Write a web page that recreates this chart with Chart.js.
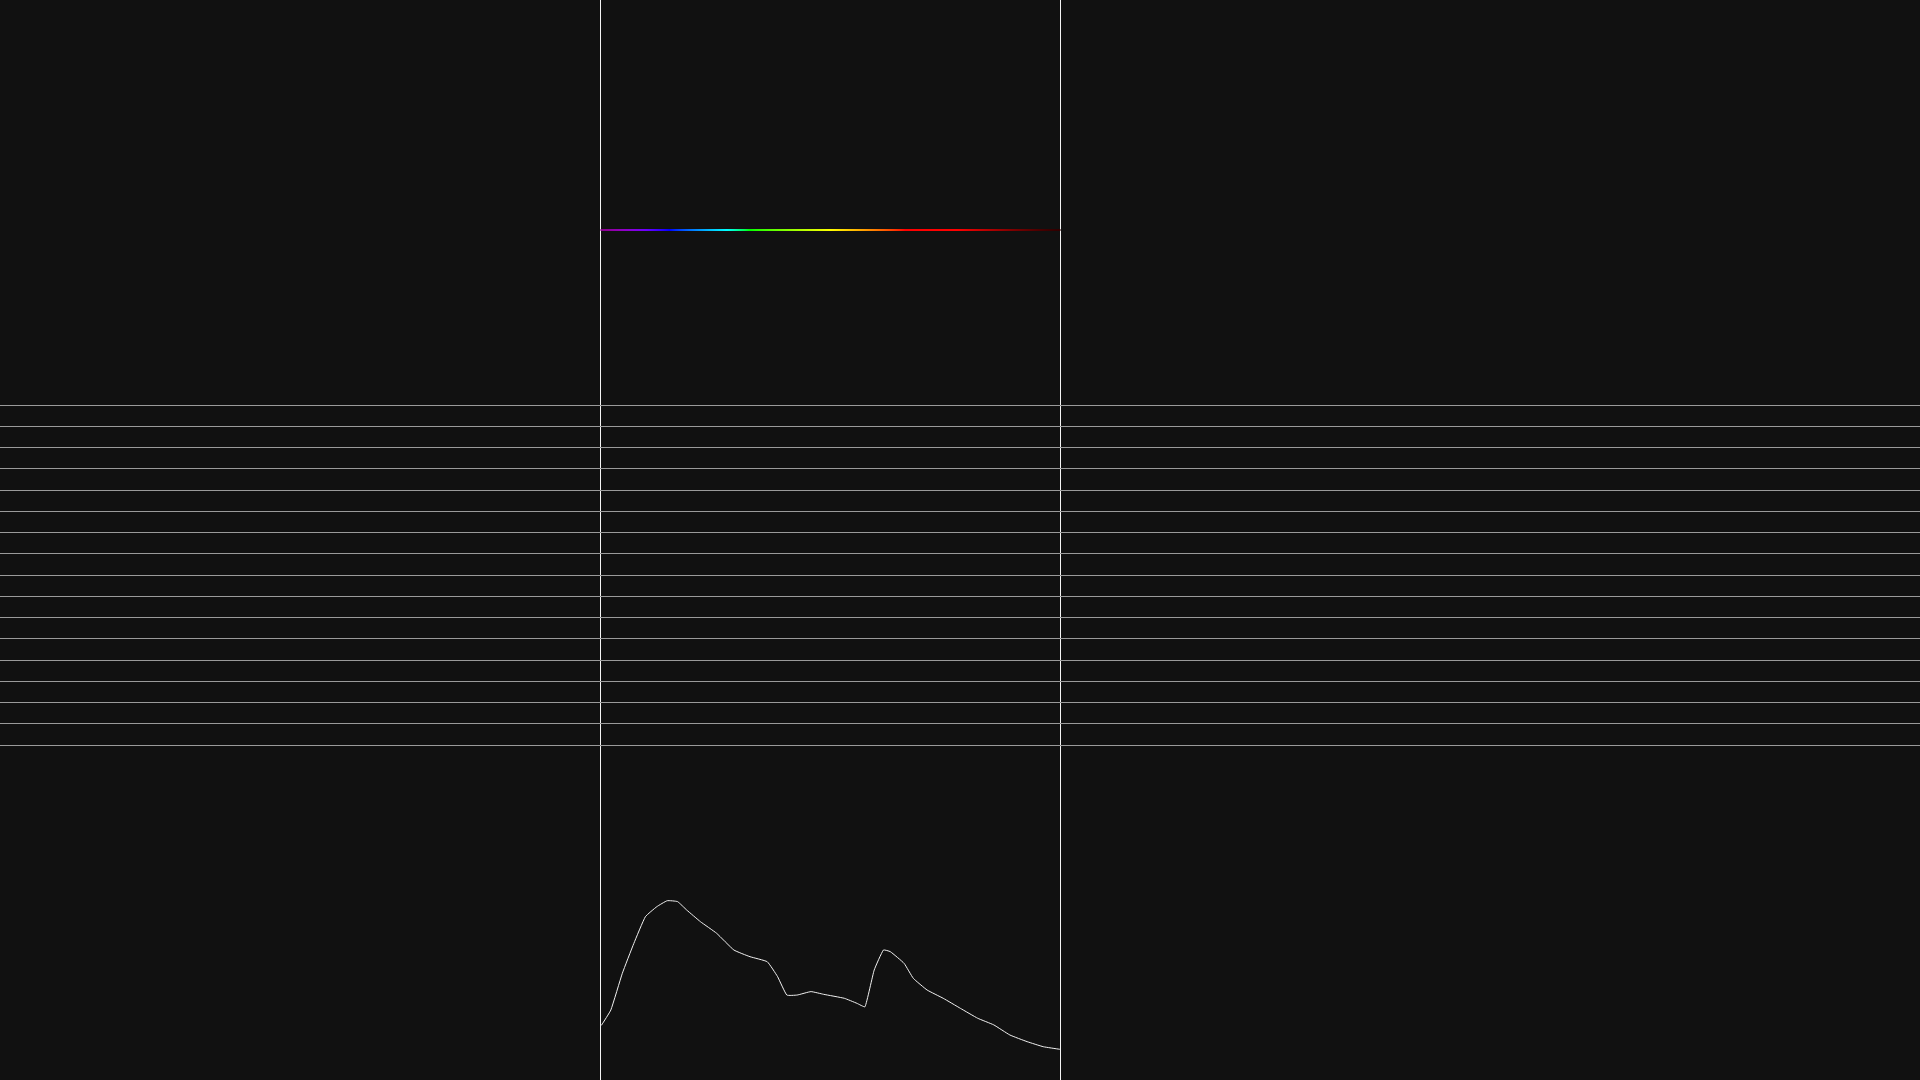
<!DOCTYPE html>
<html>
<head>
<meta charset="utf-8">
<script src="https://cdn.jsdelivr.net/npm/chart.js@4.4.1/dist/chart.umd.min.js"></script>
<style>
  html, body { margin: 0; padding: 0; background: #111111; overflow: hidden; }
  #wrap { position: absolute; left: 0; top: 0; width: 1920px; height: 1080px; }
</style>
</head>
<body>
<div id="wrap"><canvas id="c"></canvas></div>
<script>
// ---- data ----
const wavelengths = [380, 381, 389, 399, 409, 419, 429, 438, 447, 455, 467, 481, 496, 510, 525, 534, 542, 551, 563, 574, 592, 603, 610, 618, 626, 632, 644, 652, 664, 678, 693, 708, 722, 736, 751, 765, 779, 780];
const intensity   = [0.30, 0.306, 0.389, 0.593, 0.759, 0.907, 0.963, 0.996, 0.991, 0.944, 0.879, 0.815, 0.722, 0.685, 0.657, 0.574, 0.472, 0.472, 0.491, 0.476, 0.454, 0.426, 0.407, 0.611, 0.722, 0.713, 0.648, 0.565, 0.50, 0.454, 0.398, 0.343, 0.306, 0.25, 0.213, 0.185, 0.171, 0.171];
const rangeTicks  = [380, 780];                 // spectrum bounds (nm)
const rowTicks    = [0,1,2,3,4,5,6,7,8,9,10,11,12,13,14,15,16];
const bandLevel   = [24.24, 24.24];             // rainbow band row position

// ---- layout ----
const W = 1920, H = 1080;
const PANEL_L = 600.5, PANEL_R = 1060.5;        // px of spectrum bounds
const GRID_BOTTOM = 745, GRID_TOP = 405;        // px of rows 0 and 16
const INT_BASE_PX = 1080, INT_PEAK_PX = 900;    // px of intensity 0 and 1

const nmPerPx = (rangeTicks[1] - rangeTicks[0]) / (PANEL_R - PANEL_L);
const xMin = rangeTicks[0] - PANEL_L * nmPerPx;
const xMax = rangeTicks[0] + (W - PANEL_L) * nmPerPx;
const rowPx = (GRID_BOTTOM - GRID_TOP) / (rowTicks.length - 1);
const rMin = -(H - GRID_BOTTOM) / rowPx;
const rMax = (rowTicks.length - 1) + GRID_TOP / rowPx;
const iPx = INT_BASE_PX - INT_PEAK_PX;
const iMin = -(H - INT_BASE_PX) / iPx;
const iMax = INT_BASE_PX / iPx;

function wlRGB(wl) {
  let r, g, b;
  if (wl < 440) { r = -(wl - 440) / 60; g = 0; b = 1; }
  else if (wl < 490) { r = 0; g = (wl - 440) / 50; b = 1; }
  else if (wl < 510) { r = 0; g = 1; b = -(wl - 510) / 20; }
  else if (wl < 580) { r = (wl - 510) / 70; g = 1; b = 0; }
  else if (wl < 645) { r = 1; g = -(wl - 645) / 65; b = 0; }
  else { r = 1; g = 0; b = 0; }
  let f;
  if (wl < 420) f = 0.45 + 0.55 * (wl - 380) / 40;
  else if (wl <= 690) f = 1;
  else f = 0.12 + 0.88 * Math.pow((780 - wl) / 90, 1.4);
  const c = v => Math.round(255 * Math.pow(v * f, 0.8));
  return `rgb(${c(r)},${c(g)},${c(b)})`;
}

const bandData = rangeTicks.map((x, i) => ({ x, y: bandLevel[i] }));
const specData = wavelengths.map((x, i) => ({ x, y: intensity[i] }));

const ctx = document.getElementById('c');
new Chart(ctx, {
  type: 'line',
  data: {
    datasets: [
      {
        data: bandData,
        yAxisID: 'y',
        borderWidth: 2,
        pointRadius: 0,
        borderColor: (c) => {
          const chart = c.chart;
          if (!chart.chartArea) return '#888';
          const xs = chart.scales.x;
          const x0 = xs.getPixelForValue(rangeTicks[0]);
          const x1 = xs.getPixelForValue(rangeTicks[1]);
          const g = chart.ctx.createLinearGradient(x0, 0, x1, 0);
          for (let wl = 380; wl <= 780; wl += 5) {
            g.addColorStop((wl - 380) / 400, wlRGB(wl));
          }
          return g;
        }
      },
      {
        data: specData,
        yAxisID: 'yI',
        borderColor: '#f2f2f2',
        borderWidth: 1,
        pointRadius: 0,
        tension: 0.12
      }
    ]
  },
  options: {
    responsive: true,
    maintainAspectRatio: false,
    animation: false,
    events: [],
    layout: { padding: 0 },
    plugins: { legend: { display: false }, tooltip: { enabled: false } },
    scales: {
      x: {
        type: 'linear', min: xMin, max: xMax,
        afterBuildTicks: (s) => { s.ticks = rangeTicks.map(v => ({ value: v })); },
        ticks: { display: false },
        border: { display: false },
        grid: { color: '#f4f4f4', lineWidth: 1, drawTicks: false }
      },
      y: {
        type: 'linear', min: rMin, max: rMax,
        afterBuildTicks: (s) => { s.ticks = rowTicks.map(v => ({ value: v })); },
        ticks: { display: false },
        border: { display: false },
        grid: { color: '#9a9a9a', lineWidth: 1, drawTicks: false }
      },
      yI: {
        type: 'linear', min: iMin, max: iMax, display: false
      }
    }
  }
});
</script>
</body>
</html>
